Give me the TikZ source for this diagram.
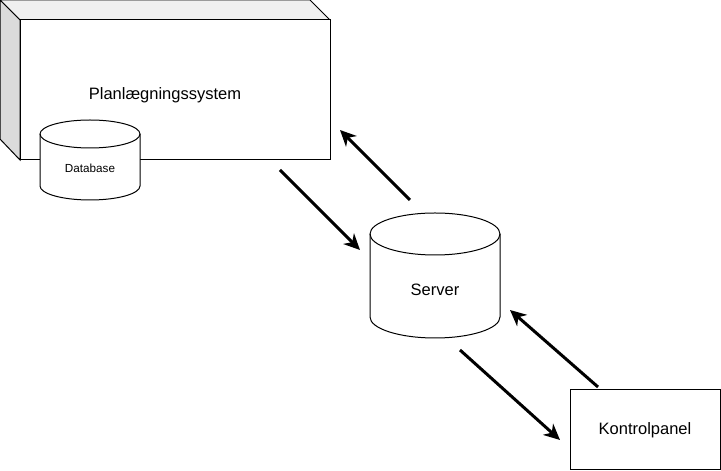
\documentclass[tikz,border=0pt]{standalone}
\usepackage{fontspec}
\setmainfont{Liberation Sans}
\usetikzlibrary{arrows.meta}
\tikzset{
  outline/.style={draw=black, line width=1pt},
  bigarrow/.style={line width=3pt, -{Stealth[length=16pt,width=15pt,inset=5pt]}},
  lbl/.style={font=\fontsize{16.5}{20}\selectfont, inner sep=0pt},
  smalllbl/.style={font=\fontsize{11.7}{14}\selectfont, inner sep=0pt}
}
\begin{document}
\begin{tikzpicture}[x=1pt,y=1pt]
\useasboundingbox (0,0) rectangle (721,471);
% 3D box
\draw[outline, fill=black!6] (0,471) -- (310,471) -- (330,451) -- (20,451) -- cycle;
\draw[outline, fill=black!14] (0,471) -- (20,451) -- (20,311) -- (0,332) -- cycle;
\draw[outline, fill=white] (20,311) rectangle (330,451);
\node[lbl] (plan) at (165,376) {Planlægningssystem};
% Database cylinder
\draw[outline, fill=white] (40,337) -- (40,285) arc[start angle=180,end angle=360,x radius=50,y radius=14] -- (140,337) arc[start angle=0,end angle=180,x radius=50,y radius=14] -- cycle;
\draw[outline] (40,337) arc[start angle=180,end angle=360,x radius=50,y radius=14];
\node[smalllbl] (db) at (90,303) {Database};
% Server cylinder
\draw[outline, fill=white] (370,237) -- (370,154) arc[start angle=180,end angle=360,x radius=65,y radius=21] -- (500,237) arc[start angle=0,end angle=180,x radius=65,y radius=21] -- cycle;
\draw[outline] (370,237) arc[start angle=180,end angle=360,x radius=65,y radius=21];
\node[lbl] (server) at (435,181) {Server};
% Kontrolpanel
\draw[outline, fill=white] (570,1) rectangle (720,81);
\node[lbl] (kp) at (645,41) {Kontrolpanel};
% arrow endpoints
\coordinate (a1s) at (280,301); \coordinate (a1e) at (360,221);
\coordinate (a2s) at (410,271); \coordinate (a2e) at (340,341);
\coordinate (a3s) at (598,84);  \coordinate (a3e) at (510,161);
\coordinate (a4s) at (460,121); \coordinate (a4e) at (560,31);
\draw[bigarrow] (a1s) -- (a1e);
\draw[bigarrow] (a2s) -- (a2e);
\draw[bigarrow] (a3s) -- (a3e);
\draw[bigarrow] (a4s) -- (a4e);
\end{tikzpicture}
\end{document}
